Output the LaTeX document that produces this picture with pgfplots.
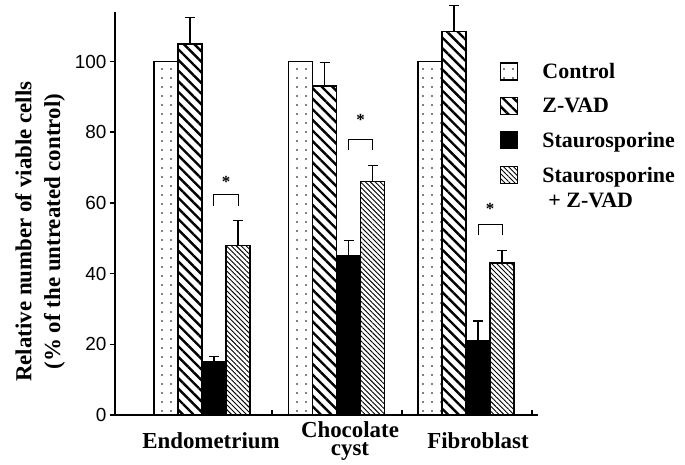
\documentclass[border=0pt]{standalone}
\usepackage{pgfplots}
\pgfplotsset{compat=1.18}
\usetikzlibrary{patterns.meta}
\usepackage{fontspec}
\setmainfont{Liberation Serif}
\newfontfamily\sansnum{Liberation Sans}

% x is in picture units: group centres
\pgfplotstableread{
x ctrl zvad zvade st ste sz sze
202 100 105 7.5 15 1.5 48 7
336.5 100 93 6.7 45 4.3 66 4.5
466 100 108.5 7.4 21 5.6 43 3.5
}\cells

\pgfplotsset{
  boxlegend/.style={legend image code/.code={
    \draw[##1, line width=1.3bp] (0bp,-8bp) rectangle (17bp,9bp);}},
  boxlegendup/.style={legend image code/.code={
    \draw[##1, line width=1.3bp] (0bp,5bp) rectangle (17bp,22bp);}},
  errs/.style={error bars/.cd, y dir=plus, y explicit,
    error mark=-, error mark options={rotate=90, black, line width=1.2bp, mark size=5bp},
    error bar style={black, line width=1.2bp}},
}

\begin{document}
\begin{tikzpicture}
\begin{axis}[
    name=ax,
    width=423bp, height=403bp, scale only axis,
    xmin=115, xmax=538, ymin=0, ymax=114,
    axis x line=bottom, axis y line=left,
    axis line style={-, line width=2.5bp},
    ybar=0pt, bar width=24,
    ytick={0,20,40,60,80,100},
    ytick align=outside, major tick length=5bp,
    tick style={black, line width=1.5bp},
    y tick label style={font=\sansnum\fontsize{19}{19}\selectfont},
    /pgf/number format/assume math mode=true,
    xtick={272,402,532}, xticklabels={},
    xtick align=inside,
    extra x ticks={211,350,478},
    extra x tick labels={Endometrium,{Chocolate\\[-4bp]cyst},Fibroblast},
    extra x tick style={major tick length=0pt,
      tick label style={font=\bfseries\fontsize{23}{23}\selectfont,
        align=center, anchor=center, yshift=-26bp}},
    ylabel={Relative number of viable cells\\(\% of the untreated control)},
    ylabel style={font=\bfseries\fontsize{23}{29}\selectfont, align=center,
      at={(axis description cs:-0.177,0.455)}, anchor=center},
    clip=false,
    legend style={draw=none, fill=none, at={(axis cs:497,100.6)}, anchor=north west,
      font=\bfseries\fontsize{22}{24}\selectfont, cells={align=left},
      row sep=14bp,
      /tikz/every odd column/.append style={column sep=22bp}},
    legend cell align=left,
]
\addplot[draw=black, line width=1.6bp, pattern={Dots[distance=9bp, radius=0.8bp]}, boxlegend]
  table[x=x, y=ctrl] {\cells};
\addlegendentry{Control}
\addplot[draw=black, line width=1.6bp, pattern={Lines[angle=-45, distance=7.5bp, line width=2.4bp]}, boxlegend, errs]
  table[x=x, y=zvad, y error=zvade] {\cells};
\addlegendentry{Z-VAD}
\addplot[draw=black, fill=black, line width=1.6bp, boxlegend, errs]
  table[x=x, y=st, y error=ste] {\cells};
\addlegendentry{Staurosporine}
\addplot[draw=black, line width=1.6bp, pattern={Lines[angle=-45, distance=3.5bp, line width=0.9bp]}, boxlegendup, errs]
  table[x=x, y=sz, y error=sze] {\cells};
\addlegendentry{Staurosporine\\[2bp]\hspace{6bp}+ Z-VAD}

% significance brackets
\draw[line width=1bp] (axis cs:214,59) -- (axis cs:214,62.3) -- (axis cs:238,62.3) -- (axis cs:238,59);
\node[font=\bfseries\fontsize{17}{17}\selectfont] at (axis cs:226,66) {*};
\draw[line width=1bp] (axis cs:348.5,75) -- (axis cs:348.5,78) -- (axis cs:372.5,78) -- (axis cs:372.5,75);
\node[font=\bfseries\fontsize{17}{17}\selectfont] at (axis cs:360.5,83.5) {*};
\draw[line width=1bp] (axis cs:478,51) -- (axis cs:478,54) -- (axis cs:502,54) -- (axis cs:502,51);
\node[font=\bfseries\fontsize{17}{17}\selectfont] at (axis cs:490,58.2) {*};
\end{axis}
\pgfresetboundingbox
\path[use as bounding box] ([xshift=-115bp,yshift=-50bp]ax.south west)
  rectangle ([xshift=147bp,yshift=12bp]ax.north east);
\end{tikzpicture}
\end{document}
